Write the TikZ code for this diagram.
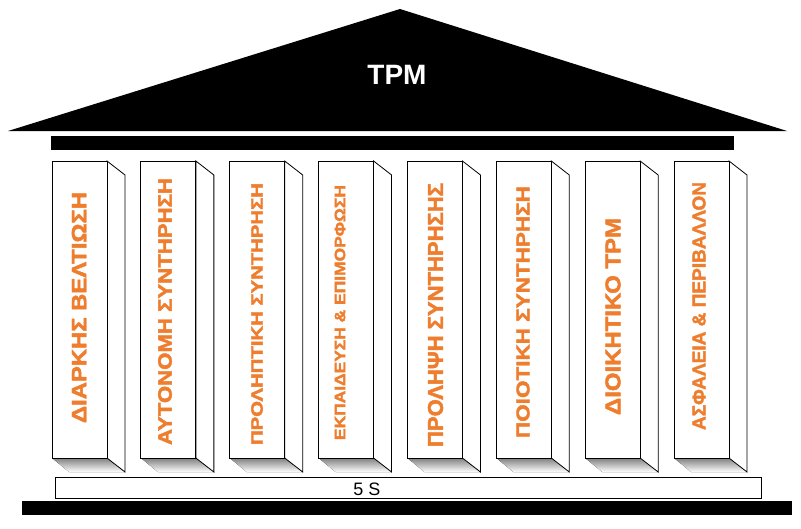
\documentclass[tikz,border=0pt]{standalone}
\usepackage{fontspec}
\setmainfont{Liberation Sans}
\newfontfamily\pillarfont{Liberation Sans Bold}[FakeBold=2]
\definecolor{txtorange}{RGB}{238,125,45}
\definecolor{shade}{RGB}{168,168,168}
\newcommand{\fitword}[3]{\resizebox{#1pt}{#2pt}{\pillarfont #3}}
\begin{document}
\begin{tikzpicture}[x=1pt,y=-1pt,
  front/.style={draw=black, fill=white, line width=0.8pt, minimum width=55pt, minimum height=297pt, inner sep=0pt, outer sep=0pt},
  side/.style={draw=black, fill=white, line width=0.8pt},
  colword/.style={text=txtorange, font=\pillarfont\fontsize{20}{20}\selectfont, rotate=90, inner sep=0pt},
  bar/.style={fill=black}
]
\useasboundingbox (0,0) rectangle (801,528);
% roof
\fill[black] (8,131) -- (400,9) -- (787,131) -- cycle;
\node[text=white, font=\bfseries\fontsize{28}{28}\selectfont, inner sep=0pt] (tpm) at (397,75) {TPM};
% architrave
\fill[bar] (51,136) rectangle (734,149.5);
% pillars
\foreach \i in {0,...,7} {
  \pgfmathsetmacro{\xl}{52+88.86*\i}
  \fill[shade] (\xl,458) -- ++(55,0) -- ++(18,14) -- ++(-56,0) -- cycle;
  \draw[side] (\xl+55,161) -- ++(18,14) -- ++(0,297) -- ++(-18,-14) -- cycle;
  \node[front] (p\i) at (\xl+27.5,309.5) {};
}
\node[colword] (t0) at (79,307.5) {\fitword{231}{14.5}{ΔΙΑΡΚΗΣ ΒΕΛΤΙΩΣΗ}};
\node[colword] (t1) at (165,311.5) {\fitword{267}{13.5}{ΑΥΤΟΝΟΜΗ ΣΥΝΤΗΡΗΣΗ}};
\node[colword] (t2) at (257,314) {\fitword{262}{11.5}{ΠΡΟΛΗΠΤΙΚΗ ΣΥΝΤΗΡΗΣΗ}};
\node[colword] (t3) at (340,312.5) {\fitword{255}{10.5}{ΕΚΠΑΙΔΕΥΣΗ \& ΕΠΙΜΟΡΦΩΣΗ}};
\node[colword] (t4) at (435.5,315) {\fitword{264}{15}{ΠΡΟΛΗΨΗ ΣΥΝΤΗΡΗΣΗΣ}};
\node[colword] (t5) at (523,312) {\fitword{252}{13}{ΠΟΙΟΤΙΚΗ ΣΥΝΤΗΡΗΣΗ}};
\node[colword] (t6) at (613,316.5) {\fitword{197}{15}{ΔΙΟΙΚΗΤΙΚΟ TPM}};
\node[colword] (t7) at (699,306) {\fitword{248}{13}{ΑΣΦΑΛΕΙΑ \& ΠΕΡΙΒΑΛΛΟΝ}};
% base
\draw[fill=white, line width=0.8pt] (55,477) rectangle (761,498);
\node[font=\fontsize{18}{18}\selectfont, inner sep=0pt] (fives) at (367,489.5) {5 S};
\fill[bar] (22,501) rectangle (792,514.5);
\end{tikzpicture}
\end{document}
